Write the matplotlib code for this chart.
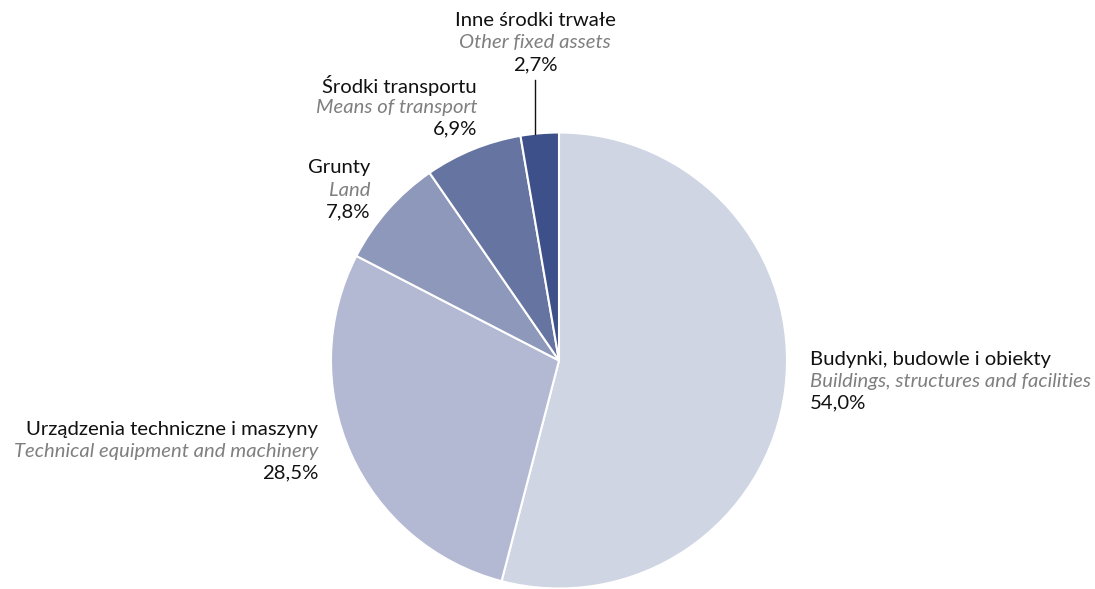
import matplotlib
matplotlib.use("Agg")
import matplotlib.pyplot as plt

categories_pl = ["Budynki, budowle i obiekty", "Urządzenia techniczne i maszyny", "Grunty",
                 "Środki transportu", "Inne środki trwałe"]
categories_en = ["Buildings, structures and facilities", "Technical equipment and machinery", "Land",
                 "Means of transport", "Other fixed assets"]
values = [54.0, 28.5, 7.8, 6.9, 2.7]
value_labels = ["54,0%", "28,5%", "7,8%", "6,9%", "2,7%"]
colors = ["#cfd5e3", "#b3b8d3", "#8e98bb", "#6674a2", "#3e508a"]

W, H = 1095, 589
fig = plt.figure(figsize=(W / 100, H / 100), dpi=100)
ax = fig.add_axes([0, 0, 1, 1])
ax.set_xlim(0, W)
ax.set_ylim(0, H)
ax.set_aspect("equal")
ax.axis("off")

cx, cy, R = 559, H - 360.5, 228
ax.pie(values, colors=colors, startangle=90, counterclock=False, center=(cx, cy), radius=R,
       wedgeprops=dict(edgecolor="white", linewidth=1.5))
ax.set_xlim(0, W)
ax.set_ylim(0, H)

fam = ["Lato", "DejaVu Sans"]
fs = 14.6
# label anchor positions (pixel coordinates: x, top-line y), alignment
anchors = [(810, 359, "left"), (318, 429, "right"), (370, 168, "right"), (477, 85, "right"), (535, 21, "center")]
dy = 22
for i, (x, y, ha) in enumerate(anchors):
    ax.text(x, H - y, categories_pl[i], ha=ha, va="center", fontsize=fs, family=fam, color="#111111")
    ax.text(x, H - y - dy, categories_en[i], ha=ha, va="center", fontsize=fs, family=fam,
            style="italic", color="#7f7f7f")
    ax.text(x, H - y - 2 * dy, value_labels[i], ha=ha, va="center", fontsize=fs, family=fam, color="#111111")

# leader line for the smallest slice
ax.plot([535, 535], [H - 80, H - 134], color="#111111", linewidth=1)

fig.savefig("out.png", dpi=100)
